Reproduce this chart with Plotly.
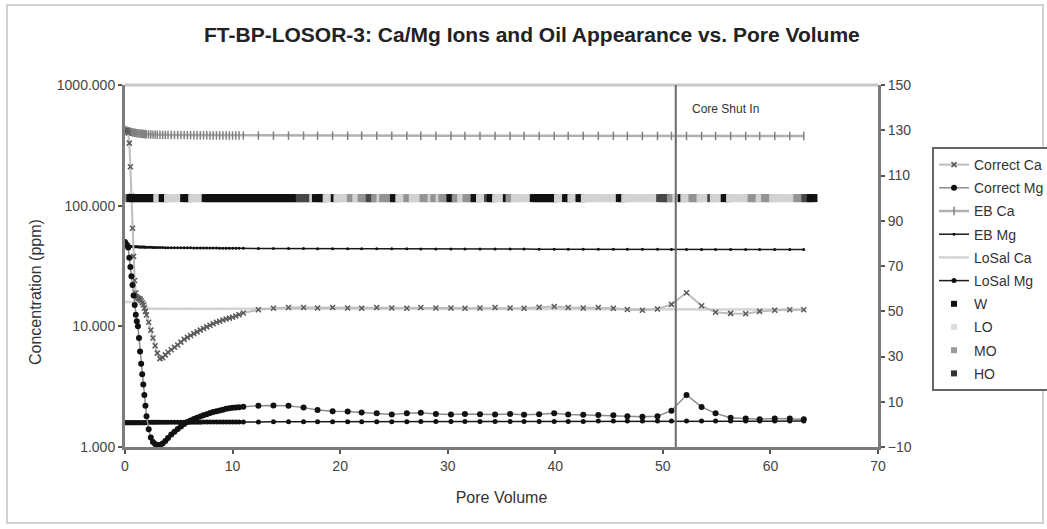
import plotly.graph_objects as go

# ---------------- data ----------------
PV = [0.0, 0.1, 0.2, 0.3, 0.4, 0.5, 0.6, 0.7, 0.8, 0.9,
      1.0, 1.1, 1.2, 1.3, 1.4, 1.5, 1.6, 1.7, 1.8, 1.9,
      2.0, 2.2, 2.4, 2.6, 2.8, 3.0, 3.25, 3.5, 3.75, 4.0,
      4.3, 4.6, 4.9, 5.2, 5.5, 5.8, 6.1, 6.4, 6.7, 7.0,
      7.3, 7.6, 7.9, 8.2, 8.5, 8.8, 9.1, 9.4, 9.7, 10.0,
      10.3, 10.6, 11.0, 12.4, 13.8, 15.2, 16.6, 17.9, 19.3, 20.7,
      22.0, 23.4, 24.8, 26.2, 27.5, 28.9, 30.3, 31.6, 33.0, 34.4,
      35.8, 37.1, 38.5, 39.9, 41.2, 42.6, 44.0, 45.4, 46.7, 48.1,
      49.5, 50.8, 52.2, 53.6, 54.9, 56.3, 57.7, 59.0, 60.4, 61.8,
      63.1]

CORRECT_CA = [420, 420, 415, 400, 330, 210, 120, 65, 38, 24,
              19, 17.5, 17.2, 17.0, 16.8, 16.3, 15.7, 15.0, 14.2, 13.3,
              12.4, 10.8, 9.3, 8.0, 6.9, 6.0, 5.4, 5.5, 5.8, 6.1,
              6.4, 6.7, 7.0, 7.4, 7.8, 8.1, 8.4, 8.7, 9.0, 9.3,
              9.6, 9.9, 10.2, 10.5, 10.8, 11.0, 11.3, 11.5, 11.7, 11.9,
              12.2, 12.5, 12.9, 13.7, 14.1, 14.3, 14.3, 14.2, 14.3, 14.2,
              14.1, 14.3, 14.2, 14.1, 14.3, 14.2, 14.2, 14.1, 14.2, 14.3,
              14.2, 14.1, 14.4, 14.6, 14.3, 14.2, 14.3, 14.1, 13.8, 13.6,
              13.9, 15.2, 19.0, 14.8, 13.1, 12.8, 12.7, 13.3, 13.6, 13.7,
              13.7]

CORRECT_MG = [50, 48, 47, 45, 37, 31, 26, 22, 18, 15,
              12.5, 11, 10, 8.0, 6.2, 4.9, 4.0, 3.3, 2.7, 2.2,
              1.8, 1.4, 1.2, 1.1, 1.06, 1.04, 1.04, 1.07, 1.12, 1.19,
              1.27, 1.34, 1.41, 1.48, 1.55, 1.61, 1.66, 1.71, 1.75, 1.79,
              1.83, 1.87, 1.91, 1.95, 1.98, 2.01, 2.04, 2.07, 2.09, 2.11,
              2.13, 2.14, 2.16, 2.2, 2.21, 2.2, 2.12, 2.03, 1.98, 1.97,
              1.93, 1.9, 1.86, 1.9, 1.92, 1.88, 1.86, 1.88, 1.87, 1.86,
              1.88, 1.85, 1.87, 1.9, 1.86, 1.85, 1.84, 1.83, 1.8, 1.78,
              1.8, 2.0, 2.7, 2.15, 1.9, 1.75, 1.72, 1.7, 1.72, 1.72,
              1.7]

EB_CA = [425, 420, 418, 415, 412, 410, 408, 405, 403, 402,
         400, 399, 398, 397, 396, 395, 394, 393, 392, 391,
         390, 389, 389, 388, 388, 387, 387, 386, 386, 386,
         385, 385, 385, 384, 384, 384, 384, 383, 383, 383,
         383, 383, 382, 382, 382, 382, 382, 382, 381, 381,
         381, 381, 381, 381, 380, 380, 380, 380, 380, 380,
         380, 380, 380, 380, 380, 380, 380, 379, 379, 379,
         379, 379, 379, 379, 379, 379, 379, 379, 378, 378,
         378, 378, 378, 378, 378, 378, 378, 378, 378, 378,
         378]

EB_MG = [50, 48, 47, 46.5, 46.2, 46.0, 45.9, 45.8, 45.8, 45.7,
         45.7, 45.6, 45.6, 45.5, 45.5, 45.5, 45.4, 45.4, 45.4, 45.3,
         45.3, 45.2, 45.2, 45.1, 45.1, 45.0, 45.0, 45.0, 44.9, 44.9,
         44.9, 44.8, 44.8, 44.8, 44.7, 44.7, 44.7, 44.6, 44.6, 44.6,
         44.6, 44.5, 44.5, 44.5, 44.5, 44.4, 44.4, 44.4, 44.4, 44.3,
         44.3, 44.3, 44.3, 44.2, 44.2, 44.1, 44.1, 44.0, 44.0, 44.0,
         44.0, 43.9, 43.9, 43.9, 43.8, 43.8, 43.8, 43.8, 43.7, 43.7,
         43.7, 43.7, 43.6, 43.6, 43.6, 43.6, 43.5, 43.5, 43.5, 43.5,
         43.5, 43.4, 43.4, 43.4, 43.4, 43.3, 43.3, 43.3, 43.3, 43.3,
         43.3]

LOSAL_CA = [15.9, 15.9, 15.9, 15.9, 15.9, 15.9, 15.9, 15.9, 15.9, 15.9,
            15.9, 15.9, 15.9, 15.9, 15.9, 15.9, 15.9, 15.9, 15.9, 15.9,
            14.1, 14.0, 14.0, 14.0, 14.0, 14.0, 14.0, 14.0, 14.0, 14.0,
            14.0, 14.0, 14.0, 14.0, 14.0, 14.0, 14.0, 14.0, 14.0, 14.0,
            14.0, 14.0, 14.0, 14.0, 14.0, 14.0, 14.0, 14.0, 14.0, 14.0,
            14.0, 14.0, 14.0, 14.0, 13.9, 13.9, 13.9, 13.9, 13.9, 13.9,
            13.9, 13.9, 13.9, 13.9, 13.9, 13.9, 13.9, 13.9, 13.9, 13.9,
            13.9, 13.8, 13.8, 13.8, 13.8, 13.8, 13.8, 13.8, 13.8, 13.8,
            13.8, 13.8, 13.8, 13.8, 13.8, 13.8, 13.8, 13.8, 13.8, 13.8,
            13.8]

LOSAL_MG = [1.59, 1.59, 1.59, 1.59, 1.59, 1.59, 1.59, 1.59, 1.59, 1.59,
            1.59, 1.59, 1.59, 1.59, 1.59, 1.59, 1.59, 1.59, 1.59, 1.59,
            1.60, 1.60, 1.60, 1.60, 1.60, 1.60, 1.60, 1.60, 1.60, 1.60,
            1.60, 1.60, 1.60, 1.60, 1.60, 1.60, 1.60, 1.60, 1.60, 1.60,
            1.61, 1.61, 1.61, 1.61, 1.61, 1.61, 1.61, 1.61, 1.61, 1.61,
            1.61, 1.61, 1.61, 1.61, 1.62, 1.62, 1.62, 1.62, 1.62, 1.62,
            1.62, 1.62, 1.62, 1.62, 1.63, 1.63, 1.63, 1.63, 1.63, 1.63,
            1.63, 1.63, 1.63, 1.63, 1.63, 1.63, 1.64, 1.64, 1.64, 1.64,
            1.64, 1.64, 1.64, 1.64, 1.64, 1.64, 1.64, 1.64, 1.64, 1.64,
            1.64]

# Oil appearance codes, one run = (code, number of consecutive samples)
OIL_STEP = 0.25          # pore volumes between effluent samples
OIL_LEVEL = 100          # plotted on the right axis
OIL_RUNS = [("MO", 2), ("W", 10), ("LO", 2), ("W", 2), ("LO", 6), ("W", 3),
            ("LO", 5), ("W", 35), ("HO", 5), ("LO", 1), ("W", 4), ("LO", 3),
            ("W", 1), ("LO", 5), ("MO", 2), ("LO", 2), ("MO", 3), ("HO", 2),
            ("MO", 2), ("LO", 1), ("MO", 4), ("W", 2), ("LO", 3), ("MO", 2),
            ("LO", 4), ("MO", 3), ("LO", 1), ("MO", 2), ("LO", 1), ("MO", 3),
            ("W", 2), ("MO", 2), ("LO", 2), ("MO", 3), ("W", 2), ("LO", 3),
            ("HO", 1), ("W", 2), ("LO", 4), ("W", 1), ("MO", 2), ("LO", 7),
            ("W", 9), ("LO", 3), ("W", 2), ("LO", 3), ("W", 2), ("LO", 13),
            ("W", 2), ("LO", 13), ("HO", 4), ("MO", 2), ("LO", 2), ("W", 1),
            ("LO", 3), ("MO", 3), ("LO", 4), ("HO", 1), ("LO", 4), ("W", 2),
            ("LO", 8), ("MO", 3), ("LO", 2), ("MO", 3), ("LO", 9), ("MO", 3),
            ("HO", 2), ("W", 2)]
OIL_CODES = ["W", "LO", "MO", "HO"]
OIL_COLORS = {"W": "#111111", "LO": "#d2d2d2", "MO": "#939393", "HO": "#474747"}
OIL_LEGEND_COLORS = {"W": "#111111", "LO": "#dcdcdc", "MO": "#9a9a9a", "HO": "#333333"}

SHUT_IN_PV = 51.2
X_TICKS = [0, 10, 20, 30, 40, 50, 60, 70]
LEFT_TICKS = [1, 10, 100, 1000]
LEFT_TICKTEXT = ["1.000", "10.000", "100.000", "1000.000"]
RIGHT_TICKS = [-10, 10, 30, 50, 70, 90, 110, 130, 150]

TITLE = "FT-BP-LOSOR-3: Ca/Mg Ions and Oil Appearance vs. Pore Volume"

# ---------------- expand oil runs into samples ----------------
oil_x, oil_c = [], []
k = 0
for code, n in OIL_RUNS:
    for _ in range(n):
        oil_x.append(k * OIL_STEP)
        oil_c.append(code)
        k += 1

FONT = "Arial, Liberation Sans, sans-serif"
fig = go.Figure()

def add_series(name, y, line_color, line_width, mk_symbol, mk_size, mk_color, rank, mk_line=0):
    fig.add_trace(go.Scatter(
        x=PV, y=y, name=name, mode="lines+markers",
        line=dict(color=line_color, width=line_width),
        marker=dict(symbol=mk_symbol, size=mk_size, color=mk_color,
                    line=dict(width=mk_line, color=mk_color)),
        legendrank=rank, legendgroup=name, yaxis="y"))

add_series("LoSal Ca", LOSAL_CA, "#d4d4d4", 2.5, "circle", 2, "#d4d4d4", 5)
add_series("LoSal Mg", LOSAL_MG, "#1a1a1a", 1.5, "circle", 5, "#111111", 6)
add_series("EB Ca", EB_CA, "#b0b0b0", 2.5, "line-ns", 6, "#808080", 3, mk_line=1.5)
add_series("EB Mg", EB_MG, "#1a1a1a", 1.5, "circle", 3, "#111111", 4)
add_series("Correct Ca", CORRECT_CA, "#bdbdbd", 2, "x-thin", 5, "#5a5a5a", 1, mk_line=1.5)
add_series("Correct Mg", CORRECT_MG, "#8c8c8c", 1.5, "circle", 6, "#111111", 2)

# oil appearance band (one marker per effluent sample)
fig.add_trace(go.Scatter(
    x=oil_x, y=[OIL_LEVEL] * len(oil_x), mode="markers", yaxis="y2",
    marker=dict(symbol="square", size=8, color=[OIL_COLORS[c] for c in oil_c],
                line=dict(width=0)),
    showlegend=False, hoverinfo="skip"))
for i, code in enumerate(OIL_CODES):
    fig.add_trace(go.Scatter(
        x=[None], y=[None], mode="markers", name=code, yaxis="y2",
        marker=dict(symbol="square", size=6, color=OIL_LEGEND_COLORS[code]),
        legendrank=7 + i, legendgroup=code))

axis_common = dict(showgrid=False, zeroline=False, showline=True,
                   linecolor="#7c7c7c", linewidth=3, ticks="outside",
                   ticklen=4, tickwidth=1.5, tickcolor="#555",
                   tickfont=dict(family=FONT, size=14, color="#444"))

fig.update_layout(
    width=1047, height=529,
    margin=dict(l=125, r=169, t=85, b=82, autoexpand=False),
    paper_bgcolor="white", plot_bgcolor="white",
    font=dict(family=FONT, color="#333"),
    title=dict(text="<b>" + TITLE + "</b>", x=0.508, xanchor="center",
               y=1 - 35 / 529, yanchor="middle",
               font=dict(family=FONT, size=21, color="#222")),
    xaxis=dict(range=[0, 70], tickvals=X_TICKS,
               title=dict(text="Pore Volume", standoff=20,
                          font=dict(family=FONT, size=16, color="#333")),
               **axis_common),
    yaxis=dict(type="log", range=[0, 3], tickvals=LEFT_TICKS, ticktext=LEFT_TICKTEXT,
               **axis_common),
    yaxis2=dict(overlaying="y", side="right", range=[-10, 150], tickvals=RIGHT_TICKS,
                **axis_common),
    legend=dict(x=(932 - 125) / 753, xanchor="left", y=(447 - 147) / 362, yanchor="top",
                bgcolor="white", bordercolor="#666", borderwidth=2,
                tracegroupgap=2, font=dict(family=FONT, size=14, color="#333")),
    showlegend=True,
)

# top frame line, shut-in line, outer chart border
fig.add_shape(type="line", xref="paper", yref="paper", x0=0, x1=1, y0=1, y1=1,
              line=dict(color="#c8c8c8", width=3))
fig.add_shape(type="line", xref="x", yref="paper", x0=SHUT_IN_PV, x1=SHUT_IN_PV,
              y0=0, y1=1, line=dict(color="#6a6a6a", width=2))
fig.add_shape(type="rect", xref="paper", yref="paper",
              x0=(7 - 125) / 753, x1=(1043 - 125) / 753,
              y0=(447 - 523) / 362, y1=(447 - 5) / 362,
              line=dict(color="#c4c4c4", width=1.5), layer="below")
fig.add_annotation(x=SHUT_IN_PV + 4.6, y=(447 - 100) / 362, xref="x", yref="paper",
                   text="Core Shut In", showarrow=False,
                   font=dict(family=FONT, size=12, color="#333"))
# y-axis title placed where the reference has it
fig.add_annotation(x=(35 - 125) / 753, y=(447 - 292) / 362, xref="paper", yref="paper",
                   xanchor="center", yanchor="middle",
                   text="Concentration (ppm)", textangle=-90, showarrow=False,
                   font=dict(family=FONT, size=16, color="#333"))

fig.write_html("out.html")
